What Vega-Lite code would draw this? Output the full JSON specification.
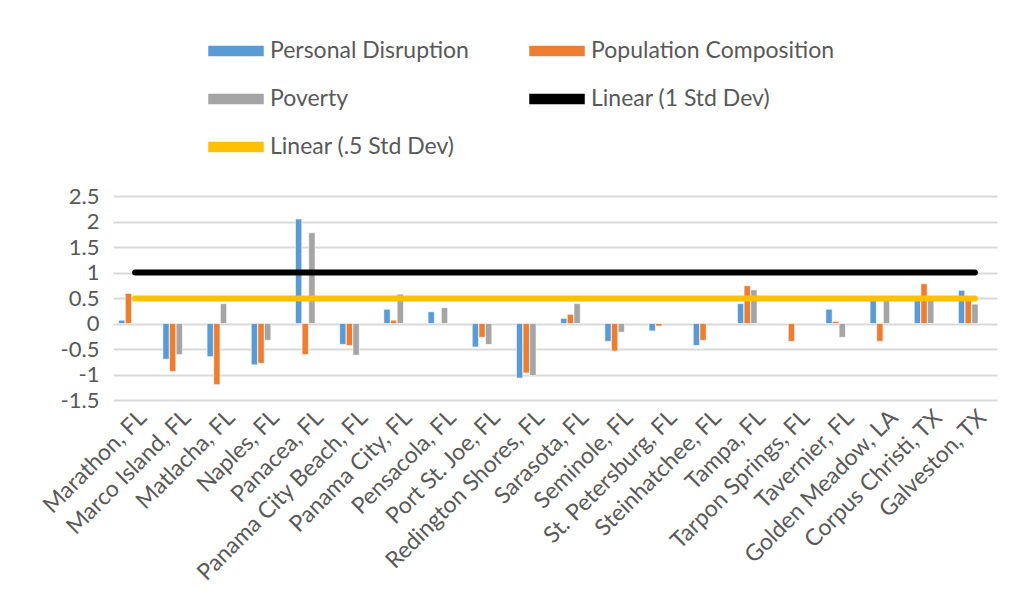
{
  "$schema": "https://vega.github.io/schema/vega-lite/v6.json",
  "width": 884,
  "height": 204,
  "autosize": {"type": "none"},
  "padding": {"left": 113, "top": 196, "right": 19, "bottom": 215},
  "background": "white",
  "config": {
    "view": {"stroke": null},
    "font": "Lato",
    "axis": {"labelFont": "Lato", "labelColor": "#595959", "labelFontSize": 23}
  },
  "datasets": {
    "bars": [
      {"city": "Marathon, FL", "series": "Personal Disruption", "value": 0.065},
      {"city": "Marathon, FL", "series": "Population Composition", "value": 0.59},
      {"city": "Marco Island, FL", "series": "Personal Disruption", "value": -0.7},
      {"city": "Marco Island, FL", "series": "Population Composition", "value": -0.94},
      {"city": "Marco Island, FL", "series": "Poverty", "value": -0.61},
      {"city": "Matlacha, FL", "series": "Personal Disruption", "value": -0.65},
      {"city": "Matlacha, FL", "series": "Population Composition", "value": -1.2},
      {"city": "Matlacha, FL", "series": "Poverty", "value": 0.39},
      {"city": "Naples, FL", "series": "Personal Disruption", "value": -0.81},
      {"city": "Naples, FL", "series": "Population Composition", "value": -0.78},
      {"city": "Naples, FL", "series": "Poverty", "value": -0.33},
      {"city": "Panacea, FL", "series": "Personal Disruption", "value": 2.05},
      {"city": "Panacea, FL", "series": "Population Composition", "value": -0.61},
      {"city": "Panacea, FL", "series": "Poverty", "value": 1.78},
      {"city": "Panama City Beach, FL", "series": "Personal Disruption", "value": -0.41},
      {"city": "Panama City Beach, FL", "series": "Population Composition", "value": -0.43},
      {"city": "Panama City Beach, FL", "series": "Poverty", "value": -0.62},
      {"city": "Panama City, FL", "series": "Personal Disruption", "value": 0.28},
      {"city": "Panama City, FL", "series": "Population Composition", "value": 0.065},
      {"city": "Panama City, FL", "series": "Poverty", "value": 0.575},
      {"city": "Pensacola, FL", "series": "Personal Disruption", "value": 0.23},
      {"city": "Pensacola, FL", "series": "Poverty", "value": 0.31},
      {"city": "Port St. Joe, FL", "series": "Personal Disruption", "value": -0.46},
      {"city": "Port St. Joe, FL", "series": "Population Composition", "value": -0.27},
      {"city": "Port St. Joe, FL", "series": "Poverty", "value": -0.41},
      {"city": "Redington Shores, FL", "series": "Personal Disruption", "value": -1.07},
      {"city": "Redington Shores, FL", "series": "Population Composition", "value": -0.97},
      {"city": "Redington Shores, FL", "series": "Poverty", "value": -1.02},
      {"city": "Sarasota, FL", "series": "Personal Disruption", "value": 0.1},
      {"city": "Sarasota, FL", "series": "Population Composition", "value": 0.18},
      {"city": "Sarasota, FL", "series": "Poverty", "value": 0.39},
      {"city": "Seminole, FL", "series": "Personal Disruption", "value": -0.35},
      {"city": "Seminole, FL", "series": "Population Composition", "value": -0.54},
      {"city": "Seminole, FL", "series": "Poverty", "value": -0.17},
      {"city": "St. Petersburg, FL", "series": "Personal Disruption", "value": -0.145},
      {"city": "St. Petersburg, FL", "series": "Population Composition", "value": -0.05},
      {"city": "Steinhatchee, FL", "series": "Personal Disruption", "value": -0.43},
      {"city": "Steinhatchee, FL", "series": "Population Composition", "value": -0.33},
      {"city": "Tampa, FL", "series": "Personal Disruption", "value": 0.39},
      {"city": "Tampa, FL", "series": "Population Composition", "value": 0.74},
      {"city": "Tampa, FL", "series": "Poverty", "value": 0.66},
      {"city": "Tarpon Springs, FL", "series": "Population Composition", "value": -0.35},
      {"city": "Tavernier, FL", "series": "Personal Disruption", "value": 0.28},
      {"city": "Tavernier, FL", "series": "Population Composition", "value": 0.04},
      {"city": "Tavernier, FL", "series": "Poverty", "value": -0.27},
      {"city": "Golden Meadow, LA", "series": "Personal Disruption", "value": 0.46},
      {"city": "Golden Meadow, LA", "series": "Population Composition", "value": -0.35},
      {"city": "Golden Meadow, LA", "series": "Poverty", "value": 0.46},
      {"city": "Corpus Christi, TX", "series": "Personal Disruption", "value": 0.46},
      {"city": "Corpus Christi, TX", "series": "Population Composition", "value": 0.78},
      {"city": "Corpus Christi, TX", "series": "Poverty", "value": 0.46},
      {"city": "Galveston, TX", "series": "Personal Disruption", "value": 0.65},
      {"city": "Galveston, TX", "series": "Population Composition", "value": 0.48},
      {"city": "Galveston, TX", "series": "Poverty", "value": 0.38}
    ],
    "lines": [
      {"city": "Marathon, FL", "series": "Linear (1 Std Dev)", "value": 1},
      {"city": "Galveston, TX", "series": "Linear (1 Std Dev)", "value": 1},
      {"city": "Marathon, FL", "series": "Linear (.5 Std Dev)", "value": 0.49},
      {"city": "Galveston, TX", "series": "Linear (.5 Std Dev)", "value": 0.49}
    ]
  },
  "encoding": {
    "x": {
      "field": "city",
      "type": "nominal",
      "sort": null,
      "scale": {
        "domain": ["Marathon, FL", "Marco Island, FL", "Matlacha, FL", "Naples, FL", "Panacea, FL", "Panama City Beach, FL", "Panama City, FL", "Pensacola, FL", "Port St. Joe, FL", "Redington Shores, FL", "Sarasota, FL", "Seminole, FL", "St. Petersburg, FL", "Steinhatchee, FL", "Tampa, FL", "Tarpon Springs, FL", "Tavernier, FL", "Golden Meadow, LA", "Corpus Christi, TX", "Galveston, TX"],
        "paddingInner": 0,
        "paddingOuter": 0
      },
      "axis": {
        "title": null,
        "domain": false,
        "ticks": false,
        "grid": false,
        "labelAngle": -45,
        "labelAlign": "right",
        "labelBaseline": "top",
        "labelPadding": 6,
        "labelLimit": 400
      }
    },
    "y": {
      "field": "value",
      "type": "quantitative",
      "scale": {"domain": [-1.5, 2.5], "nice": false, "zero": false},
      "axis": {
        "title": null,
        "values": [-1.5, -1, -0.5, 0, 0.5, 1, 1.5, 2, 2.5],
        "labelExpr": "'' + datum.value",
        "domain": false,
        "ticks": false,
        "grid": true,
        "gridColor": "#d9d9d9",
        "gridWidth": 2,
        "labelPadding": 14,
        "labelFontSize": 22
      }
    }
  },
  "layer": [
    {
      "data": {"name": "bars"},
      "mark": {"type": "bar", "stroke": "white", "strokeWidth": 0.6},
      "encoding": {
        "xOffset": {
          "field": "series",
          "scale": {
            "domain": ["Personal Disruption", "Population Composition", "Poverty", "1 Std Dev", ".5 Std Dev"],
            "paddingInner": 0.05,
            "paddingOuter": 0.85
          }
        },
        "color": {
          "field": "series",
          "type": "nominal",
          "scale": {
            "domain": ["Personal Disruption", "Population Composition", "Poverty", "Linear (1 Std Dev)", "Linear (.5 Std Dev)"],
            "range": ["#5B9BD5", "#ED7D31", "#A5A5A5", "#000000", "#FFC000"]
          },
          "legend": {
            "title": null,
            "orient": "none",
            "legendX": 107,
            "legendY": -161,
            "direction": "horizontal",
            "columns": 2,
            "columnPadding": 58,
            "rowPadding": 20,
            "padding": 0,
            "symbolSize": 900,
            "symbolType": "M-1.8,-0.3H1.8V0.3H-1.8Z",
            "labelOffset": 18,
            "labelFont": "Lato",
            "labelFontSize": 23,
            "labelColor": "#595959",
            "labelLimit": 400,
            "symbolOpacity": 1
          }
        }
      }
    },
    {
      "data": {"name": "lines"},
      "mark": {"type": "line", "strokeWidth": 6, "strokeCap": "round"},
      "encoding": {
        "color": {"field": "series", "type": "nominal"}
      }
    }
  ]
}
